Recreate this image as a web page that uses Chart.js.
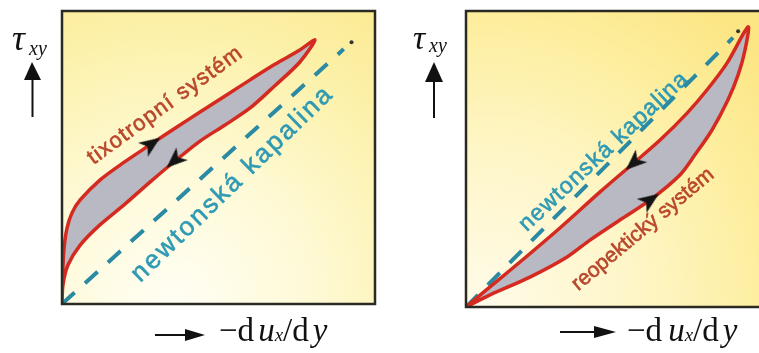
<!DOCTYPE html>
<html>
<head>
<meta charset="utf-8">
<script src="https://cdn.jsdelivr.net/npm/chart.js@4"></script>
<style>
html, body { margin: 0; padding: 0; background: #fff; width: 759px; height: 353px; overflow: hidden; }
#wrap { position: relative; width: 759px; height: 353px; overflow: hidden; }
canvas { position: absolute; top: 0; }
.lbl { position: absolute; font-family: "Liberation Serif", "DejaVu Serif", serif; color: #111; white-space: nowrap; line-height: 1; }
.lbl i { font-style: italic; }
svg { position: absolute; overflow: visible; }
</style>
</head>
<body>
<div id="wrap">
  <canvas id="left" width="380" height="353" style="left:0"></canvas>
  <canvas id="right" width="400" height="353" style="left:380px"></canvas>

  <!-- y axis names -->
  <div class="lbl" style="left:12px;top:20px;font-size:36px"><i>τ</i></div>
  <div class="lbl" style="left:29px;top:38px;font-size:20px"><i>x</i><i>y</i></div>
  <svg style="left:24px;top:62px" width="18" height="56"><polygon points="8,0 0,18 17,18" fill="#111"/><line x1="8.5" y1="16" x2="8.5" y2="55" stroke="#111" stroke-width="2"/></svg>

  <div class="lbl" style="left:413px;top:21px;font-size:34px"><i>τ</i></div>
  <div class="lbl" style="left:429px;top:35px;font-size:20px"><i>x</i><i>y</i></div>
  <svg style="left:425px;top:62px" width="18" height="56"><polygon points="9,0 0,20 18,20" fill="#111"/><line x1="9" y1="18" x2="9" y2="56" stroke="#111" stroke-width="2"/></svg>

  <!-- x axis names -->
  <svg style="left:155px;top:328px" width="52" height="14"><line x1="0" y1="7" x2="36" y2="7" stroke="#111" stroke-width="2"/><polygon points="30,1 50,7 30,13" fill="#111"/></svg>
  <div class="lbl" style="left:219px;top:314px;font-size:33px">−d<span style="margin-left:4px"><i>u</i></span><i style="font-size:19px">x</i>/d<span style="margin-left:4px"><i>y</i></span></div>

  <svg style="left:560px;top:325px" width="58" height="14"><line x1="0" y1="7" x2="40" y2="7" stroke="#111" stroke-width="2"/><polygon points="34,1 56,7 34,13" fill="#111"/></svg>
  <div class="lbl" style="left:627px;top:314px;font-size:33px">−d<span style="margin-left:6px"><i>u</i></span><i style="font-size:19px">x</i>/d<span style="margin-left:4px"><i>y</i></span></div>
</div>

<script>
// left panel - tixotropni system
const newtonL = [[0, 0], [0.90, 0.87]];
const newtonDotL = [[0.925, 0.893]];
const upL = [[0, 0], [0.0015, 0.082], [0.006, 0.184], [0.016, 0.259], [0.032, 0.311], [0.058, 0.355], [0.121, 0.423], [0.2, 0.485], [0.281, 0.543], [0.361, 0.6], [0.441, 0.655], [0.521, 0.71], [0.601, 0.765], [0.68, 0.818], [0.76, 0.867], [0.808, 0.901]];
const downL = [[0.76, 0.826], [0.68, 0.745], [0.601, 0.669], [0.521, 0.611], [0.441, 0.556], [0.361, 0.488], [0.281, 0.416], [0.2, 0.34], [0.121, 0.27], [0.058, 0.201], [0.019, 0.133], [0.003, 0.065], [0, 0]];
const arrowsL = [[0.285, 0.546], [0.36, 0.49]];
const arrowRotL = [55, 228];

// right panel - reopekticky system
const newtonR = [[0, 0], [0.89, 0.91]];
const newtonDotR = [[0.907, 0.932]];
const upR = [[0, 0], [0.08, 0.068], [0.18, 0.152], [0.313, 0.267], [0.447, 0.389], [0.563, 0.49], [0.647, 0.564], [0.737, 0.655], [0.803, 0.733], [0.87, 0.824], [0.94, 0.946]];
const downR = [[0.93, 0.868], [0.907, 0.784], [0.873, 0.699], [0.82, 0.598], [0.763, 0.514], [0.713, 0.446], [0.613, 0.361], [0.513, 0.294], [0.413, 0.226], [0.337, 0.169], [0.213, 0.101], [0.08, 0.041], [0, 0]];
const arrowsR = [[0.56, 0.488], [0.613, 0.361]];
const arrowRotR = [228, 55];

const labelsL = [
    { text: "tixotropní systém", at: [0.33, 0.678], angle: -36, size: 22, len: 185, color: "#b9472c" },
    { text: "newtonská kapalina", at: [0.545, 0.41], angle: -44, size: 26, len: 268, color: "#2f9ab4" },
];
const labelsR = [
    { text: "newtonská kapalina", at: [0.46, 0.525], angle: -43, size: 23, len: 222, color: "#2f9ab4" },
    { text: "reopektický systém", at: [0.59, 0.262], angle: -40, size: 21, len: 175, color: "#b9472c" },
];

const RED = "#d42a1f";
const TEAL = "#2a89a3";
const GREY = "#b9b9c4";

function pts(arr) {
    return arr.map(function (p) { return { x: p[0], y: p[1] }; });
}

// arrowhead image, pointing up, rotated per point by chart.js
const head = document.createElement("canvas");
head.width = 18;
head.height = 22;
(function () {
    const c = head.getContext("2d");
    c.fillStyle = "#141414";
    c.beginPath();
    c.moveTo(9, 0);
    c.lineTo(17.5, 21);
    c.lineTo(9, 15.5);
    c.lineTo(0.5, 21);
    c.closePath();
    c.fill();
})();

const panelPlugin = {
    id: "panel",
    beforeDraw(chart, args, opts) {
        const a = chart.chartArea;
        const ctx = chart.ctx;
        const g = ctx.createRadialGradient(a.left + opts.cx * (a.right - a.left), a.bottom, 0,
            a.left + opts.cx * (a.right - a.left), a.bottom, opts.r);
        opts.stops.forEach(function (s) { g.addColorStop(s[0], s[1]); });
        ctx.save();
        ctx.fillStyle = g;
        ctx.fillRect(a.left, a.top, a.right - a.left, a.bottom - a.top);
        ctx.restore();
    },
    beforeDatasetsDraw(chart, args, opts) {
        const ctx = chart.ctx;
        const xs = chart.scales.x, ys = chart.scales.y;
        opts.labels.forEach(function (l) {
            ctx.save();
            ctx.font = l.size + 'px "Liberation Sans", Arial, sans-serif';
            const w = ctx.measureText(l.text).width;
            const n = [...l.text].length;
            ctx.letterSpacing = Math.max(0, (l.len - w) / (n - 1)) + "px";
            ctx.translate(xs.getPixelForValue(l.at[0]), ys.getPixelForValue(l.at[1]));
            ctx.rotate(l.angle * Math.PI / 180);
            ctx.textAlign = "center";
            ctx.textBaseline = "middle";
            ctx.fillStyle = l.color;
            ctx.strokeStyle = l.color;
            ctx.lineWidth = 0.6;
            ctx.fillText(l.text, 0, 0);
            ctx.strokeText(l.text, 0, 0);
            ctx.restore();
        });
    },
    afterDraw(chart) {
        const a = chart.chartArea;
        const ctx = chart.ctx;
        ctx.save();
        ctx.strokeStyle = "#2b2a22";
        ctx.lineWidth = 2.5;
        ctx.strokeRect(a.left, a.top, a.right - a.left, a.bottom - a.top);
        ctx.restore();
    },
};

function makePanel(id, newton, dot, up, down, arrows, rots, labels, pad, bg) {
    const loop = up.concat(down);
    return new Chart(document.getElementById(id), {
        type: "scatter",
        data: {
            datasets: [
                {
                    data: pts(arrows),
                    pointStyle: head,
                    rotation: rots,
                    showLine: false,
                },
                {
                    data: pts(loop),
                    showLine: true,
                    fill: "shape",
                    backgroundColor: GREY,
                    borderColor: RED,
                    borderWidth: 3.5,
                    tension: 0.3,
                    pointRadius: 0,
                },
                {
                    data: pts(dot),
                    pointRadius: 2,
                    backgroundColor: "#333",
                    borderWidth: 0,
                },
                {
                    data: pts(newton),
                    showLine: true,
                    borderColor: TEAL,
                    borderWidth: 4,
                    borderDash: [17, 14],
                    pointRadius: 0,
                },
            ],
        },
        options: {
            responsive: false,
            animation: false,
            layout: { padding: pad },
            plugins: {
                legend: { display: false },
                tooltip: { enabled: false },
                panel: Object.assign({ labels: labels }, bg),
            },
            scales: {
                x: { type: "linear", min: 0, max: 1, display: false },
                y: { type: "linear", min: 0, max: 1, display: false },
            },
        },
        plugins: [panelPlugin],
    });
}

makePanel("left", newtonL, newtonDotL, upL, downL, arrowsL, arrowRotL, labelsL,
    { left: 62, top: 11, right: 5, bottom: 49 },
    { cx: 0.35, r: 380, stops: [[0, "#fffef4"], [0.35, "#fefad8"], [0.75, "#fcf0a6"], [1, "#fbe98e"]] });
makePanel("right", newtonR, newtonDotR, upR, downR, arrowsR, arrowRotR, labelsR,
    { left: 86, top: 11, right: 14, bottom: 46 },
    { cx: 0.05, r: 380, stops: [[0, "#fffbe8"], [0.4, "#fef6c8"], [0.75, "#fdee9e"], [1, "#fce583"]] });
</script>
</body>
</html>
